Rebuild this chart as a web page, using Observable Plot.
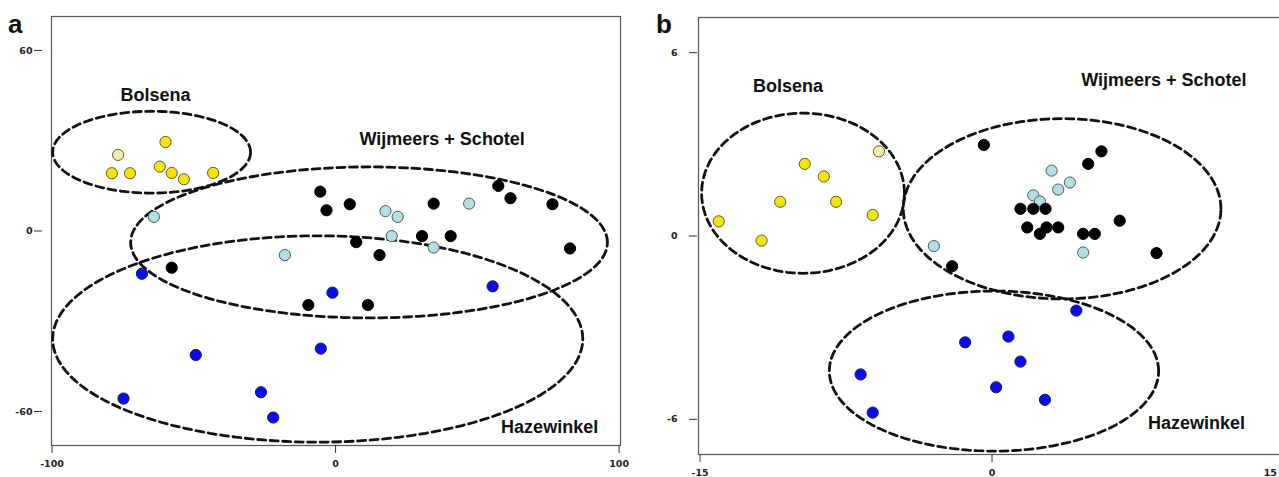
<!DOCTYPE html>
<html>
<head>
<meta charset="utf-8">
<script src="https://cdn.jsdelivr.net/npm/d3@7"></script>
<script src="https://cdn.jsdelivr.net/npm/@observablehq/plot@0.6"></script>
<style>
  html, body { margin: 0; padding: 0; background: #fff; overflow: hidden; }
  #wrap { position: relative; width: 1279px; height: 477px; overflow: hidden; }
  .panel { position: absolute; top: 0; }
  .letter { position: absolute; font-family: "Liberation Sans", Arial, sans-serif; font-weight: bold; font-size: 26px; line-height: 26px; color: #111; }
  g[aria-label$="tick label"] text { font-weight: bold; }
</style>
</head>
<body>
<div id="wrap">
  <div class="letter" style="left:8px; top:11px;">a</div>
  <div class="letter" style="left:656px; top:11px;">b</div>
</div>
<script>
// ---------- Panel a data ----------
const aTicksX = [-100, 0, 100];
const aTicksY = [-60, 0, 60];

const aBolsenaX = [-78.9, -72.5, -60.0, -62.0, -57.8, -53.5, -43.2];
const aBolsenaY = [19.2, 19.2, 29.6, 21.4, 19.3, 17.2, 19.3];
const aBolsenaPaleX = [-76.7];
const aBolsenaPaleY = [25.3];
const aSchotelX = [-64.1, 17.6, 21.9, 47.1, 19.8, 34.6, -17.9];
const aSchotelY = [4.7, 6.6, 4.7, 9.1, -1.7, -5.5, -8.0];
const aWijmeersX = [-5.4, -3.2, 5.0, 34.6, 57.4, 61.7, 76.5, 30.5, 40.6, 7.3, 15.5, 82.7, -57.8, -9.6, 11.4];
const aWijmeersY = [13.1, 6.9, 8.9, 9.1, 15.0, 10.9, 8.9, -1.7, -1.7, -3.7, -8.0, -5.8, -12.2, -24.6, -24.6];
const aHazewinkelX = [-68.3, -1.1, 55.4, -49.3, -5.2, -74.8, -26.3, -22.0];
const aHazewinkelY = [-14.2, -20.5, -18.4, -41.2, -39.1, -55.7, -53.6, -62.0];

// ellipse groups: name, centre x, centre y, radius x, radius y (data units)
const aEllipseNames = ["Bolsena", "Wijmeers + Schotel", "Hazewinkel"];
const aEllipseCX = [-64.9, 11.8, -6.3];
const aEllipseCY = [26.2, -3.8, -35.9];
const aEllipseRX = [34.9, 84.1, 93.5];
const aEllipseRY = [13.6, 25.1, 34.3];
const aLabelX = [-63.5, 37.6, 75.5];
const aLabelY = [45.0, 30.4, -65.3];

// ---------- Panel b data ----------
const bTicksX = [-15, 0, 15];
const bTicksY = [-6, 0, 6];

const bBolsenaX = [-9.62, -8.64, -10.88, -8.01, -6.13, -14.04, -11.84];
const bBolsenaY = [2.36, 1.95, 1.12, 1.12, 0.69, 0.48, -0.15];
const bBolsenaPaleX = [-5.81];
const bBolsenaPaleY = [2.77];
const bSchotelX = [3.06, 4.00, 3.40, 2.12, 2.46, -2.99, 4.68];
const bSchotelY = [2.14, 1.75, 1.52, 1.33, 1.13, -0.33, -0.54];
const bWijmeersX = [-0.42, 5.62, 4.94, 1.46, 2.12, 2.75, 6.56, 1.81, 2.80, 3.40, 2.46, 4.68, 5.28, -2.05, 8.45];
const bWijmeersY = [2.98, 2.77, 2.36, 0.89, 0.89, 0.89, 0.50, 0.28, 0.28, 0.28, 0.07, 0.07, 0.07, -0.99, -0.56];
const bHazewinkelX = [4.33, 0.84, -1.38, 1.46, -6.75, 0.21, 2.72, -6.13];
const bHazewinkelY = [-2.44, -3.29, -3.48, -4.11, -4.53, -4.95, -5.36, -5.78];

const bEllipseNames = ["Bolsena", "Wijmeers + Schotel", "Hazewinkel"];
const bEllipseCX = [-9.71, 3.6, 0.10];
const bEllipseCY = [1.40, 0.89, -4.42];
const bEllipseRX = [5.21, 8.16, 8.46];
const bEllipseRY = [2.62, 2.95, 2.62];
const bLabelX = [-10.48, 8.83, 10.50];
const bLabelY = [4.89, 5.09, -6.13];

// ---------- styles ----------
const groupStyle = {
  "Bolsena":      {fill: "#f4e600", stroke: "#5a5a40"},
  "Bolsena pale": {fill: "#f4efa8", stroke: "#5a5a40"},
  "Schotel":      {fill: "#b3dfe1", stroke: "#4a5a5a"},
  "Wijmeers":     {fill: "#000000", stroke: "#000000"},
  "Hazewinkel":   {fill: "#0a0af5", stroke: "#1a1a40"}
};

function pts(group, xs, ys) { return xs.map((x, i) => ({group, x, y: ys[i]})); }

function ellipsePoints(names, cx, cy, rx, ry) {
  const out = [];
  names.forEach((name, k) => {
    for (let i = 0; i < 120; i++) {
      const t = (i / 120) * 2 * Math.PI;
      out.push({name, x: cx[k] + rx[k] * Math.cos(t), y: cy[k] + ry[k] * Math.sin(t)});
    }
  });
  return out;
}

function panel(cfg) {
  const edge = cfg.edgeTick; // tick whose label sits at the cropped right edge
  const fmt = d => (d === edge ? "" : String(d));
  const marks = [
    Plot.frame({stroke: "#555", strokeWidth: 1.2}),
    Plot.axisX({ticks: cfg.xTicks, tickFormat: fmt, tickSize: 8, tickPadding: 7, fontSize: 9.5, fontWeight: "bold", label: null, stroke: "#333"}),
    Plot.axisY({ticks: cfg.yTicks, tickFormat: d => String(d), tickSize: 8, tickPadding: cfg.yPad, dx: cfg.yDx, fontSize: 9.5, fontWeight: "bold", label: null, stroke: "#333"}),
    Plot.line(cfg.ellipses, {x: "x", y: "y", z: "name", curve: "linear-closed", stroke: "#111", strokeWidth: 2.8, strokeDasharray: "8,4.5"}),
    Plot.dot(cfg.points, {x: "x", y: "y", r: 5.6, fill: d => groupStyle[d.group].fill, stroke: d => groupStyle[d.group].stroke, strokeWidth: 1}),
    Plot.text(cfg.labels, {x: "x", y: "y", text: "name", fontSize: 18, fontWeight: "bold", fill: "#111", fontFamily: "'Liberation Sans', Arial, sans-serif"})
  ];
  if (edge !== undefined) {
    marks.push(Plot.axisX({ticks: [edge], tickFormat: d => String(d), tickSize: 0, tickPadding: 15, textAnchor: "end", dx: cfg.edgeDx, fontSize: 9.5, fontWeight: "bold", label: null}));
  }
  return Plot.plot({
    width: cfg.width,
    height: 477,
    marginLeft: cfg.marginLeft,
    marginRight: cfg.marginRight,
    marginTop: cfg.marginTop,
    marginBottom: cfg.marginBottom,
    x: {domain: cfg.xDomain},
    y: {domain: cfg.yDomain},
    style: {fontFamily: "'DejaVu Sans', Verdana, sans-serif", background: "transparent", color: "#222"},
    marks
  });
}

const aPoints = [
  ...pts("Bolsena", aBolsenaX, aBolsenaY),
  ...pts("Bolsena pale", aBolsenaPaleX, aBolsenaPaleY),
  ...pts("Schotel", aSchotelX, aSchotelY),
  ...pts("Wijmeers", aWijmeersX, aWijmeersY),
  ...pts("Hazewinkel", aHazewinkelX, aHazewinkelY)
];
const bPoints = [
  ...pts("Bolsena", bBolsenaX, bBolsenaY),
  ...pts("Bolsena pale", bBolsenaPaleX, bBolsenaPaleY),
  ...pts("Schotel", bSchotelX, bSchotelY),
  ...pts("Wijmeers", bWijmeersX, bWijmeersY),
  ...pts("Hazewinkel", bHazewinkelX, bHazewinkelY)
];

const chartA = panel({
  width: 640, marginLeft: 51, marginRight: 20, marginTop: 16, marginBottom: 32,
  xDomain: [-100.2, 100.5], yDomain: [-71.3, 71.3],
  xTicks: aTicksX, yTicks: aTicksY, yDx: -9, yPad: 2,
  points: aPoints,
  ellipses: ellipsePoints(aEllipseNames, aEllipseCX, aEllipseCY, aEllipseRX, aEllipseRY),
  labels: aEllipseNames.map((name, i) => ({name, x: aLabelX[i], y: aLabelY[i]}))
});
const chartB = panel({
  width: 660, marginLeft: 58, marginRight: 13, marginTop: 17, marginBottom: 23,
  xDomain: [-15.08, 15.18], yDomain: [-7.15, 7.15],
  xTicks: bTicksX, yTicks: bTicksY, yDx: -1, yPad: 12,
  edgeTick: 15, edgeDx: -7,
  points: bPoints,
  ellipses: ellipsePoints(bEllipseNames, bEllipseCX, bEllipseCY, bEllipseRX, bEllipseRY),
  labels: bEllipseNames.map((name, i) => ({name, x: bLabelX[i], y: bLabelY[i]}))
});

chartA.classList.add("panel"); chartA.style.left = "0px";
chartB.classList.add("panel"); chartB.style.left = "640px";
const wrap = document.getElementById("wrap");
wrap.insertBefore(chartB, wrap.firstChild);
wrap.insertBefore(chartA, wrap.firstChild);
</script>
</body>
</html>
